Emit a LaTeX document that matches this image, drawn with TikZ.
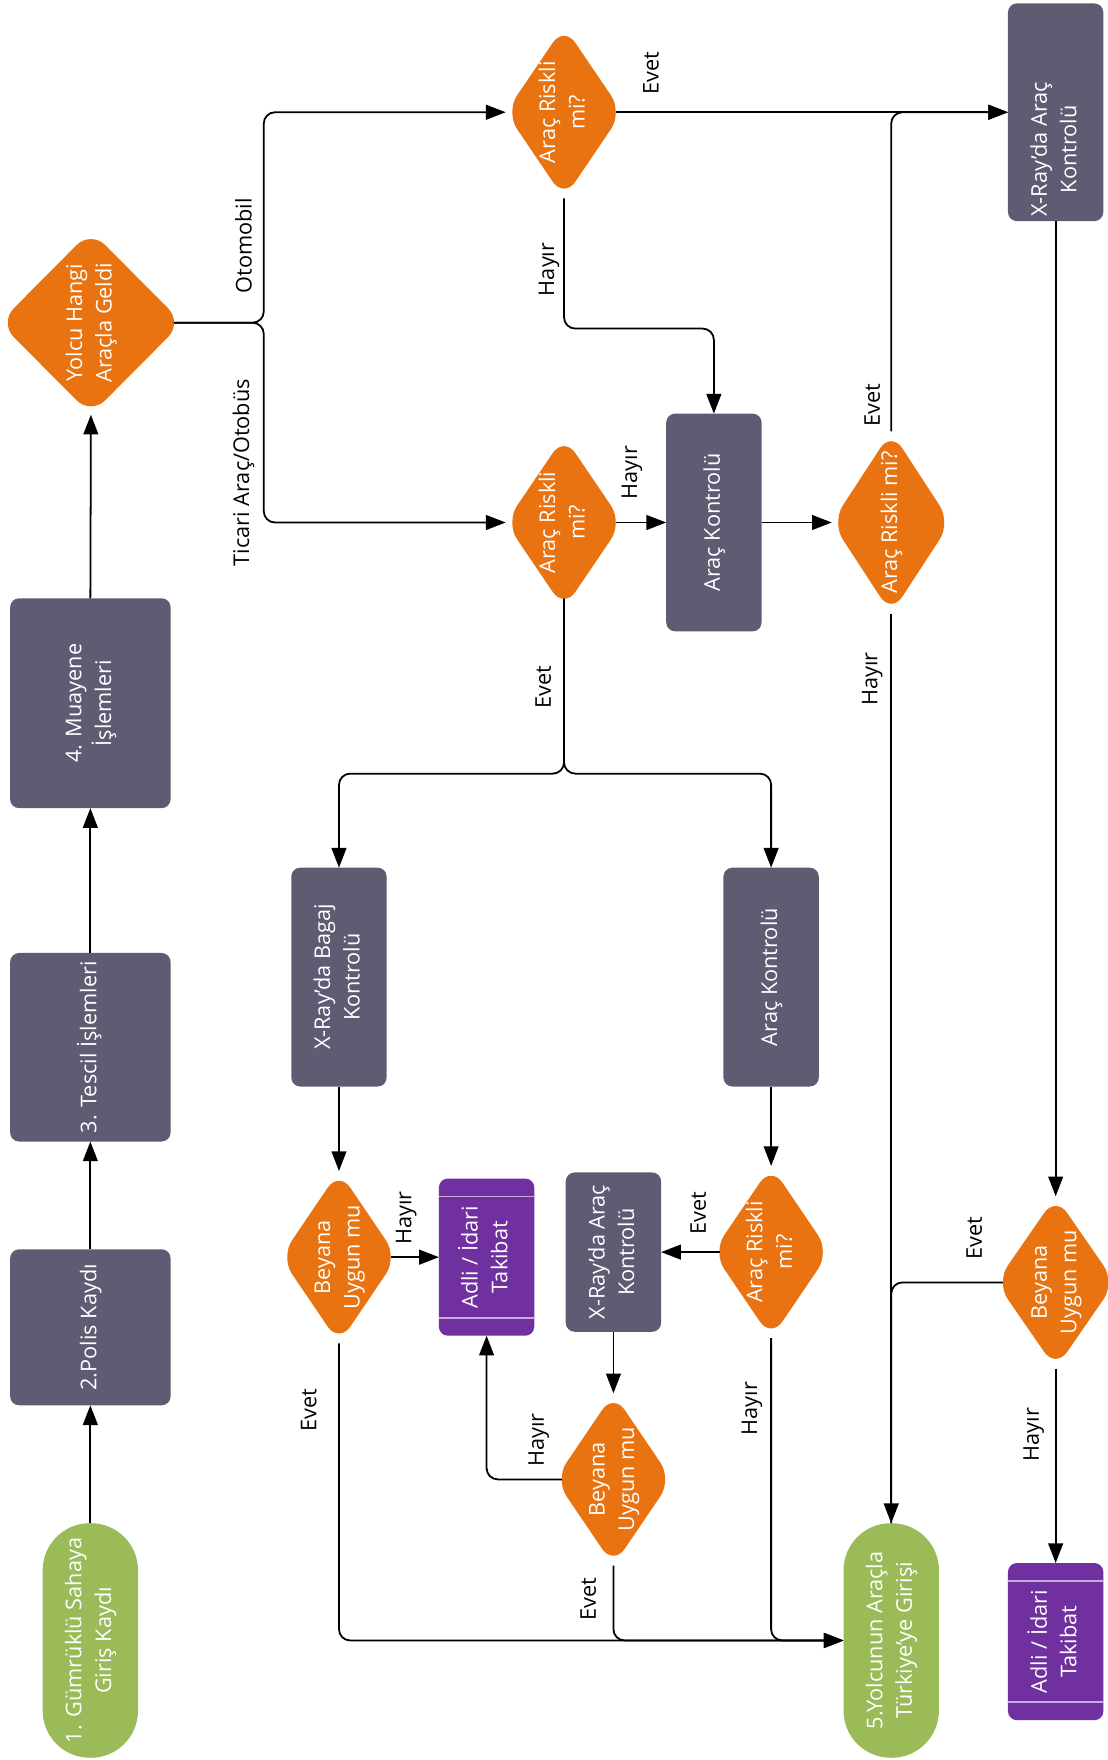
\documentclass[tikz,border=0pt]{standalone}
\usepackage{fontspec}
\setmainfont{Open Sans}
\definecolor{flowOrange}{HTML}{E97311}
\definecolor{flowGray}{HTML}{5F5B72}
\definecolor{flowPurple}{HTML}{7030A0}
\definecolor{flowLilac}{HTML}{C6ACD9}
\definecolor{flowGreen}{HTML}{9BBB59}
\usetikzlibrary{arrows.meta, calc, positioning, shapes.geometric}
\newcommand{\flowfont}{\fontsize{11pt}{15pt}\selectfont}
\newcommand{\vtext}[1]{\makebox[0pt][c]{\raisebox{-.5\height}[0pt][0pt]{\rotatebox{90}{\begin{tabular}{@{}c@{}}#1\end{tabular}}}}}
\begin{document}
\begin{tikzpicture}[x=0.02cm, y=-0.02cm,
	>={Triangle[length=10pt, width=7.5pt]},
	line/.style={draw=black, line width=0.9pt, rounded corners=0.2cm},
	tipside/.style={shorten <=-0.12cm},
	box/.style={rectangle, rounded corners=0.16cm, fill=flowGray, text=white, inner sep=0pt, outer sep=0pt, minimum width=1.7cm, font=\flowfont},
	dmd/.style={diamond, rounded corners=0.36cm, fill=flowOrange, text=white, inner sep=0pt, outer sep=0pt, minimum width=2.08cm, minimum height=3.07cm, font=\flowfont},
	term/.style={rectangle, rounded corners=0.84cm, fill=flowGreen, text=white, inner sep=0pt, outer sep=0pt, minimum width=1.7cm, minimum height=4.18cm, font=\flowfont},
	legal/.style={box, fill=flowPurple, minimum height=2.8cm,
		path picture={\draw[flowLilac, line width=0.8pt]
			([yshift=-0.32cm]path picture bounding box.north west) -- ([yshift=-0.32cm]path picture bounding box.north east)
			([yshift=0.32cm]path picture bounding box.south west) -- ([yshift=0.32cm]path picture bounding box.south east);}},
	lbl/.style={rotate=90, font=\flowfont, inner sep=0pt}]
	\useasboundingbox (0,0) rectangle (987,1568);
	
	% Main line
	\node[term] (entry) at (80.5,1461.5) {\vtext{1. Gümrüklü Sahaya\\Giriş Kaydı}};
	\node[box, minimum width=2.86cm, minimum height=2.78cm] (polis) at (80.5,1182.5) {\vtext{2.Polis Kaydı}};
	\node[box, minimum width=2.86cm, minimum height=3.36cm] (tescil) at (80.5,933) {\vtext{3. Tescil İşlemleri}};
	\node[box, minimum width=2.86cm, minimum height=3.74cm] (muayene) at (80.5,626.5) {\vtext{4. Muayene\\İşlemleri}};
	\node[dmd, minimum width=3.26cm, minimum height=3.28cm] (vehicle) at (81,287.5) {\vtext{Yolcu Hangi\\Araçla Geldi}};
	\coordinate (fork) at (235,287.5);
	
	% Risk checks
	\node[dmd] (riskcar) at (502.5,100) {\vtext{Araç Riskli\\mi?}};
	\node[dmd] (risktruck) at (502.5,465.5) {\vtext{Araç Riskli\\mi?}};
	\node[box, minimum height=3.88cm] (checktruck) at (636,465.5) {\vtext{Araç Kontrolü}};
	\node[dmd, minimum width=2.12cm, minimum height=3.25cm] (riskagain) at (794,465.5) {\vtext{Araç Riskli mi?}};
	\node[box, minimum height=3.88cm] (xraycar) at (940.5,100) {\raisebox{-0.66cm}[0pt][0pt]{\vtext{X-Ray’da Araç\\Kontrolü}}};
	
	% Controls
	\node[box, minimum height=3.9cm] (xraybag) at (302,870.5) {\vtext{X-Ray’da Bagaj\\Kontrolü}};
	\node[box, minimum height=3.9cm] (checkcar) at (687,870.5) {\vtext{Araç Kontrolü}};
	\node[dmd] (declbag) at (302,1120) {\vtext{Beyana\\Uygun mu}};
	\node[legal] (legalbag) at (433.5,1120) {\vtext{Adli / İdari\\Takibat}};
	\node[dmd] (riskcheck) at (687,1115.5) {\vtext{Araç Riskli\\mi?}};
	\node[box, minimum height=2.84cm] (xraycheck) at (546.5,1115.5) {\vtext{X-Ray’da Araç\\Kontrolü}};
	\node[dmd] (declcheck) at (546.5,1318) {\vtext{Beyana\\Uygun mu}};
	\node[dmd, minimum width=2.12cm] (declcar) at (940.5,1142.5) {\vtext{Beyana\\Uygun mu}};
	\node[legal] (legalcar) at (940.5,1462.5) {\vtext{Adli / İdari\\Takibat}};
	\node[term] (exit) at (794,1461.5) {\vtext{5.Yolcunun Araçla\\Türkiye’ye Girişi}};
	
	% Connectors
	\draw[line, ->] (entry.north) -- (polis.south);
	\draw[line, ->] (polis.north) -- (tescil.south);
	\draw[line, ->] (tescil.north) -- (muayene.south);
	\draw[line, ->] (muayene.north) -- (vehicle.south);
	\draw[line, ->, shorten <=-0.15cm] (vehicle.east) -- (fork) |- (riskcar.west);
	\draw[line, ->, shorten <=-0.15cm] (vehicle.east) -- (fork) |- (risktruck.west);
	
	\draw[line, ->, tipside] (riskcar.east) -- (xraycar.west);
	\draw[line, ->] (riskcar.south) -- ++(0,116) -| (checktruck.north);
	\draw[line, ->, tipside] (risktruck.east) -- (checktruck.west);
	\draw[line, ->] (checktruck.east) -- (riskagain.west);
	\draw[line, ->] (riskagain.north) |- (xraycar.west);
	\draw[line, ->] (riskagain.south) -- (exit.north);
	\draw[line, ->, shorten <=-0.18cm] (risktruck.south) -- ++(0,147) -| (xraybag.north);
	\draw[line, ->, shorten <=-0.18cm] (risktruck.south) -- ++(0,147) -| (checkcar.north);
	
	\draw[line, ->] (xraybag.south) -- (declbag.north);
	\draw[line, ->, tipside] (declbag.east) -- (legalbag.west);
	\draw[line, ->] (declbag.south) |- (exit.west);
	\draw[line, ->] (checkcar.south) -- (riskcheck.north);
	\draw[line, ->, tipside] (riskcheck.west) -- (xraycheck.east);
	\draw[line, ->] (riskcheck.south) |- (exit.west);
	\draw[line, ->] (xraycheck.south) -- (declcheck.north);
	\draw[line, ->, tipside] (declcheck.west) -| (legalbag.south);
	\draw[line, ->] (declcheck.south) |- (exit.west);
	
	\draw[line, ->] (xraycar.south) -- (declcar.north);
	\draw[line, tipside] (declcar.west) -| (exit.north);
	\draw[line, ->] (declcar.south) -- (legalcar.north);
	
	% Labels
	\foreach \n/\x/\y/\t in {car/217/219/Otomobil, truck/217/421/{Ticari Araç/Otobüs},
		a/580/65/Evet, b/489/240/Hayır, c/563/421/Hayır, d/777/361/Evet, e/777/605/Hayır,
		f/484/612/Evet, g/362/1085/Hayır, h/275/1256/Evet, i/622/1081/Evet, j/480/1283/Hayır,
		k/524/1425/Evet, l/670/1255/Hayır, m/868/1103/Evet, o/921/1278/Hayır}
	{
		\node[lbl] (lbl\n) at (\x,\y) {\t};
	}
	
\end{tikzpicture}
\end{document}
